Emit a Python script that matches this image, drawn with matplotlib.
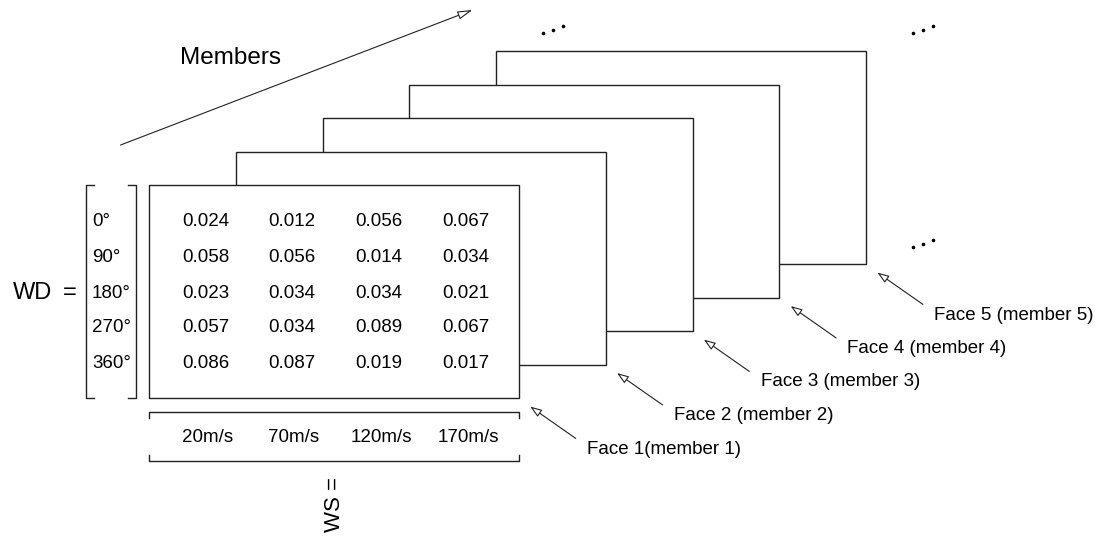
import matplotlib
matplotlib.use('Agg')
import matplotlib.pyplot as plt
from matplotlib.patches import Rectangle, FancyArrowPatch

plt.rcParams['font.family'] = ['Liberation Sans', 'DejaVu Sans']

# data
wd_labels = ['0°', '90°', '180°', '270°', '360°']
ws_labels = ['20m/s', '70m/s', '120m/s', '170m/s']
values = [[0.024, 0.012, 0.056, 0.067],
          [0.058, 0.056, 0.014, 0.034],
          [0.023, 0.034, 0.034, 0.021],
          [0.057, 0.034, 0.089, 0.067],
          [0.086, 0.087, 0.019, 0.017]]
face_labels = ['Face 1(member 1)', 'Face 2 (member 2)', 'Face 3 (member 3)',
               'Face 4 (member 4)', 'Face 5 (member 5)']

# layout (pixel coordinates)
fx, fy, fw, fh = 149, 185, 370, 213
dx, dy = 86.8, -33.5
col_x = [206, 292, 379, 466]
row_y = [221, 257, 293, 328, 363]
lc = '#222222'
fs = 13.5

fig = plt.figure(figsize=(11.04, 5.40), dpi=100)
ax = fig.add_axes([0, 0, 1, 1])
ax.set_xlim(0, 1104)
ax.set_ylim(540, 0)
ax.axis('off')

# stacked faces, back to front
for i in range(len(face_labels) - 1, -1, -1):
    x0 = fx + i * dx
    y0 = fy + i * dy
    ax.add_patch(Rectangle((x0, y0), fw, fh, facecolor='white', edgecolor=lc,
                           lw=1.0, zorder=10 - i))
    hx, hy = x0 + fw + 9, y0 + fh + 7
    ax.add_patch(FancyArrowPatch((hx + 50, hy + 35), (hx, hy),
                                 arrowstyle='-|>,head_length=0.7,head_width=0.25',
                                 mutation_scale=10, lw=0.8, edgecolor=lc,
                                 facecolor='white', zorder=20))
    ax.text(hx + 59, hy + 44, face_labels[i], fontsize=fs, ha='left', va='center',
            zorder=20)

# values in front face
for r, row in enumerate(values):
    for c, v in enumerate(row):
        ax.text(col_x[c], row_y[r], '%.3f' % v, fontsize=fs, ha='center',
                va='center', zorder=20)

# WD bracket
bl, br, bt, bb = 86, 136, 185, 398
ax.plot([bl + 8, bl, bl, bl + 8], [bt, bt, bb, bb], color=lc, lw=1.0)
ax.plot([br - 8, br, br, br - 8], [bt, bt, bb, bb], color=lc, lw=1.0)
for r, lab in enumerate(wd_labels):
    ax.text(92, row_y[r], lab, fontsize=fs, ha='left', va='center')
ax.text(33, 293, 'WD', fontsize=17, ha='center', va='center')
ax.text(70, 293, '=', fontsize=17, ha='center', va='center')

# WS bracket
wt, wb = 412, 461
ax.plot([fx, fx, fx + fw, fx + fw], [wt + 6, wt, wt, wt + 6], color=lc, lw=1.0)
ax.plot([fx, fx, fx + fw, fx + fw], [wb - 6, wb, wb, wb - 6], color=lc, lw=1.0)
for c, lab in enumerate(ws_labels):
    ax.text(col_x[c] + 2, 437, lab, fontsize=fs, ha='center', va='center')
ax.text(334, 505, 'WS =', fontsize=16, ha='center', va='center', rotation=90)

# members arrow
ax.add_patch(FancyArrowPatch((118, 146), (475, 9),
                             arrowstyle='-|>,head_length=0.9,head_width=0.25',
                             mutation_scale=10, lw=0.8, edgecolor=lc,
                             facecolor='white'))
ax.text(230, 58, 'Members', fontsize=17.5, ha='center', va='center')

# ellipsis marks
for ex, ey in [(543, 33), (913, 33), (913, 247)]:
    ax.scatter([ex, ex + 10, ex + 20], [ey, ey - 3, ey - 7], s=2.5, color='black')

fig.savefig('out.png', dpi=100)
